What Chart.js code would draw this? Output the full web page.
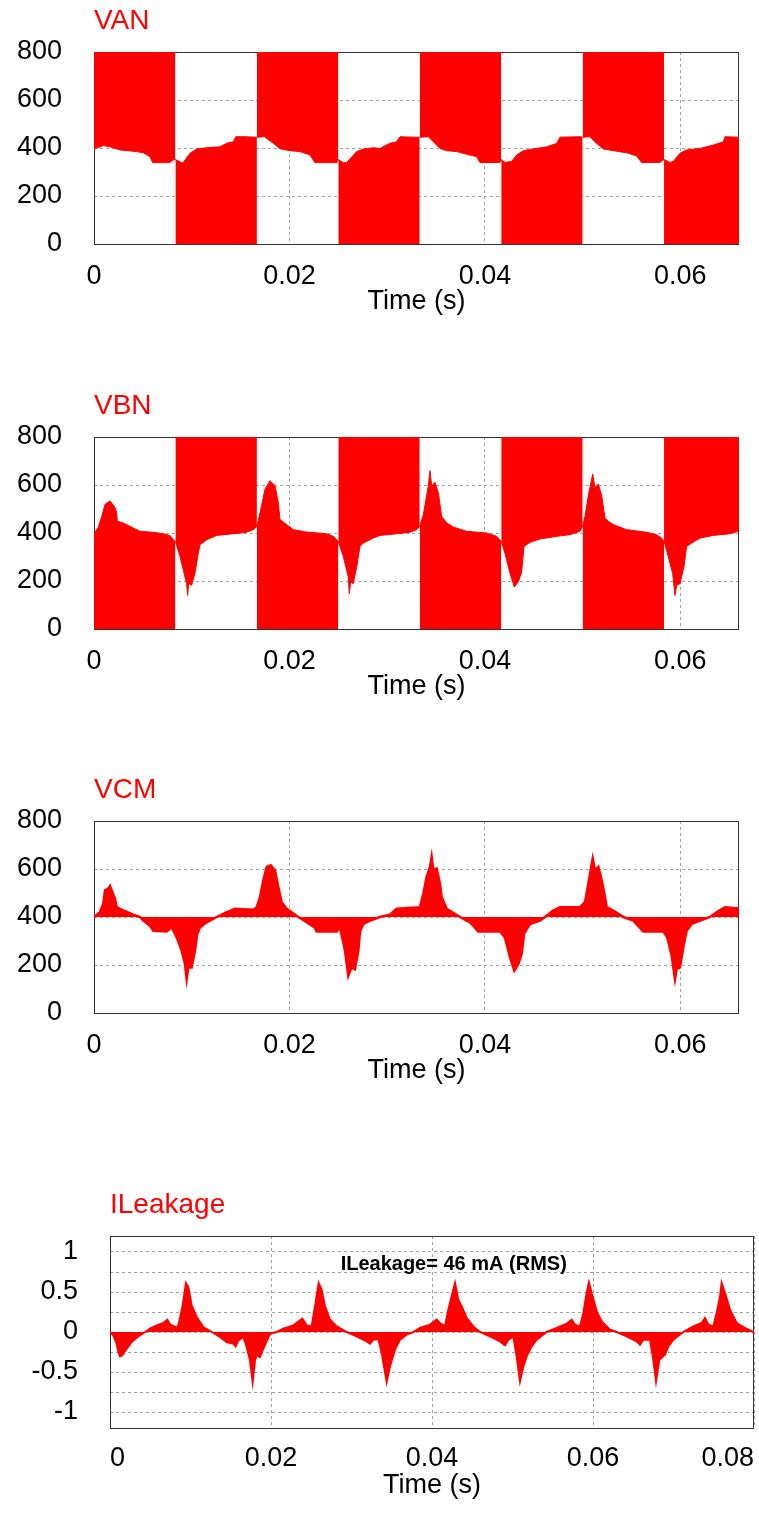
<!DOCTYPE html>
<html>
<head>
<meta charset="utf-8">
<title>Inverter voltages and leakage current</title>
<script src="https://cdn.jsdelivr.net/npm/chart.js@4.4.1/dist/chart.umd.min.js"></script>
<style>
  html, body { margin: 0; padding: 0; background: #fff; }
  body { position: relative; width: 759px; height: 1513px; overflow: hidden; }
  canvas { position: absolute; left: 0; }
</style>
</head>
<body>
<canvas id="van" width="759" height="318" style="top:0px"></canvas>
<canvas id="vbn" width="759" height="318" style="top:385px"></canvas>
<canvas id="vcm" width="759" height="318" style="top:769px"></canvas>
<canvas id="ileak" width="759" height="318" style="top:1184px"></canvas>
<script>
// ===== Axis ticks =====
const voltTicksX = [0, 0.02, 0.04, 0.06];
const leakTicksX = [0, 0.02, 0.04, 0.06, 0.08];
const voltTicksY = [0, 200, 400, 600, 800];
const leakTicksY = [-1, -0.75, -0.5, -0.25, 0, 0.25, 0.5, 0.75, 1];
const leakLabelsY = [-1, -0.5, 0, 0.5, 1];

// switching blocks (ms): inside a block the leg switches so fast it reads as solid red
const switchEdges = [0, 8.33, 16.67, 25.0, 33.33, 41.67, 50.0, 58.33, 66.0];

// ===== VAN envelope (time ms, volts) =====
const vanTime = [0, 0.95, 1.64, 2.66, 4.37, 5.05, 5.73, 6.0, 7.78, 8.05, 8.33,
  8.97, 9.14, 9.82, 10.51, 11.53, 12.89, 13.58, 14.26, 14.5, 15.62, 16.47, 16.67,
  17.43, 18.35, 19.03, 20.05, 21.08, 22.1, 22.61, 24.83, 25.0,
  25.51, 25.86, 26.88, 27.56, 28.58, 29.26, 30.29, 30.97, 31.31, 32.67, 33.33,
  34.21, 34.72, 35.4, 36.09, 37.11, 38.13, 39.16, 39.5, 41.55, 41.67,
  42.05, 42.73, 43.25, 43.93, 44.95, 46.32, 47.34, 47.68, 49.73, 50.0,
  50.75, 51.43, 52.12, 53.14, 54.5, 55.53, 56.04, 57.91, 58.33,
  58.94, 59.28, 59.96, 60.64, 62.01, 63.37, 64.4, 64.57, 65.93, 66.0];
const vanEnv = [395, 410, 405, 392, 385, 380, 364, 339, 339, 350, 352,
  339, 340, 378, 396, 401, 405, 420, 426, 447, 447, 445, 445,
  447, 420, 397, 389, 385, 371, 339, 339, 352,
  339, 340, 385, 396, 401, 398, 420, 426, 447, 445, 445,
  447, 426, 398, 389, 385, 374, 364, 339, 340, 352,
  340, 344, 371, 389, 396, 405, 419, 445, 447, 445,
  447, 419, 396, 389, 380, 367, 339, 340, 352,
  340, 344, 378, 392, 398, 412, 426, 447, 445, 420];

// ===== VBN envelope (time ms, volts) =====
const vbnTime = [0, 0.41, 0.75, 1.13, 1.3, 1.64, 2.15, 2.32, 2.39, 3.0, 4.02, 4.71, 6.07, 7.1, 7.78, 8.12, 8.33,
  8.8, 9.14, 9.48, 9.58, 9.69, 9.99, 10.33, 10.67, 10.85, 11.53, 12.55, 14.26, 15.62, 16.3, 16.67,
  16.99, 17.5, 18.01, 18.52, 18.86, 19.03, 19.71, 20.4, 21.76, 23.81, 24.49, 24.83, 25.0,
  25.51, 26.02, 26.12, 26.26, 26.53, 26.88, 27.22, 27.56, 28.58, 29.26, 30.97, 32.33, 33.02, 33.33,
  33.7, 34.21, 34.38, 34.55, 34.89, 35.23, 35.57, 36.09, 36.77, 38.13, 40.18, 41.2, 41.67,
  42.05, 42.57, 43.01, 43.42, 43.76, 44.0, 44.61, 45.64, 47.34, 48.71, 49.73, 50.0,
  50.24, 50.58, 51.03, 51.26, 51.61, 51.95, 52.29, 52.63, 53.14, 54.5, 56.55, 57.57, 58.08, 58.33,
  58.76, 59.21, 59.45, 59.62, 59.96, 60.37, 60.64, 61.16, 62.01, 63.37, 65.08, 65.93, 66.0];
const vbnEnv = [400, 421, 463, 520, 524, 534, 506, 484, 449, 442, 421, 407, 403, 397, 389, 372, 365,
  302, 245, 189, 140, 189, 182, 231, 316, 351, 372, 390, 397, 403, 414, 428,
  484, 583, 618, 597, 527, 456, 435, 414, 404, 397, 386, 372, 365,
  302, 217, 147, 196, 189, 259, 344, 358, 379, 390, 397, 403, 414, 428,
  477, 597, 660, 597, 611, 569, 470, 442, 425, 407, 400, 386, 365,
  316, 231, 175, 196, 238, 344, 361, 375, 386, 393, 407, 428,
  470, 555, 646, 590, 604, 555, 463, 449, 435, 414, 403, 393, 379, 365,
  302, 231, 140, 182, 189, 259, 344, 358, 379, 390, 397, 407, 414];

// ===== VCM envelope around 400 V (time ms, volts) =====
const vcmTime = [0, 0.61, 0.95, 1.13, 1.47, 1.64, 1.81, 2.15, 2.32, 3.0, 4.02, 4.71,
  5.05, 5.73, 6.07, 7.44, 7.95, 8.46, 8.97, 9.31, 9.48, 9.65, 9.99, 10.33, 10.57, 10.85, 11.53, 12.55,
  13.58, 14.43, 16.3, 16.64, 16.99, 17.33, 17.67, 18.08, 18.52, 18.86, 19.2, 19.71, 20.4, 20.91,
  21.76, 22.61, 22.78, 24.83, 25.17, 25.68, 26.02, 26.36, 26.7, 27.05, 27.22, 27.56, 28.24, 29.26,
  30.29, 30.97, 33.02, 33.35, 33.7, 34.04, 34.38, 34.55, 34.72, 35.06, 35.4, 35.57, 36.09, 37.45,
  38.47, 39.32, 41.55, 42.05, 42.57, 43.01, 43.42, 43.76, 44.0, 44.61, 45.64, 46.15,
  46.99, 47.68, 49.73, 50.24, 50.58, 51.03, 51.26, 51.61, 51.95, 52.29, 52.46, 53.14, 54.17,
  55.19, 56.21, 58.25, 58.66, 59.11, 59.45, 59.62, 59.96, 60.3, 60.64, 61.16, 62.01, 63.03,
  63.71, 64.57, 65.93, 66.0];
const vcmEnv = [400, 420, 455, 511, 518, 529, 511, 476, 441, 427, 410, 400,
  385, 364, 343, 340, 357, 315, 260, 204, 141, 190, 190, 260, 330, 357, 378, 400,
  420, 434, 430, 440, 483, 553, 609, 616, 595, 525, 462, 434, 414, 400,
  378, 355, 340, 340, 357, 260, 155, 190, 182, 260, 340, 371, 385, 400,
  410, 434, 440, 441, 497, 567, 609, 651, 595, 602, 539, 483, 434, 400,
  378, 340, 340, 315, 232, 176, 204, 246, 330, 371, 385, 400,
  427, 441, 441, 462, 539, 644, 595, 609, 553, 483, 441, 427, 400,
  385, 340, 340, 315, 239, 141, 183, 190, 274, 343, 371, 385, 400,
  420, 441, 436, 427];

// ===== ILeakage (time ms, amps) =====
const leakTime = [0, 0.41, 0.83, 1.04, 1.24, 1.53, 2.07, 2.69, 3.52, 4.35, 4.97, 5.8, 6.63, 7.12, 7.45,
  8.28, 8.49, 9.03, 9.44, 9.73, 10.14, 10.77, 11.59, 12.63, 13.66, 14.49, 15.32, 15.61, 15.94, 16.56,
  16.98, 17.39, 17.72, 18.01, 18.22, 18.63, 19.05, 19.88, 20.7, 21.53, 22.77, 23.89, 24.43, 25.05,
  25.47, 25.92, 26.29, 26.71, 27.33, 28.16, 29.4, 30.64, 31.88, 32.3, 32.71, 33.33, 33.75, 34.04,
  34.37, 34.78, 35.4, 36.02, 36.85, 37.68, 38.51, 39.75, 40.58, 40.99, 41.61, 42.03, 42.44, 42.86,
  43.27, 43.69, 44.31, 45.13, 45.96, 47.2, 48.45, 49.07, 49.48, 50.1, 50.52, 50.93, 51.35, 51.76,
  52.38, 53.0, 54.24, 55.49, 56.73, 57.35, 57.76, 58.39, 58.8, 59.21, 59.5, 59.83, 60.46, 61.08,
  62.11, 62.94, 64.18, 65.42, 65.84, 66.25, 67.08, 67.49, 67.83, 68.24, 68.94, 69.36, 69.98, 71.22,
  72.46, 73.5, 73.91, 74.33, 74.95, 75.45, 75.78, 75.98, 76.4, 77.02, 77.85, 78.88, 79.92, 80.0];
const leakVal = [0, -0.042, -0.146, -0.25, -0.304, -0.29, -0.21, -0.125, -0.054, 0, 0.042, 0.083, 0.112, 0.154, 0.096,
  0.054, 0.083, 0.333, 0.612, 0.5625, 0.333, 0.1875, 0.0625, 0, -0.0625, -0.125, -0.146, -0.179, -0.104, -0.0625,
  -0.1875, -0.354, -0.625, -0.354, -0.29, -0.3125, -0.208, -0.021, 0, 0.042, 0.083, 0.167, 0.083, 0.07,
  0.32, 0.6125, 0.53, 0.32, 0.154, 0.07, 0, -0.054, -0.117, -0.146, -0.096, -0.0875, -0.2625, -0.43,
  -0.625, -0.43, -0.22, -0.096, -0.033, 0, 0.05, 0.092, 0.154, 0.1125, 0.07, 0.28, 0.446, 0.6125,
  0.404, 0.32, 0.175, 0.07, 0, -0.054, -0.117, -0.167, -0.096, -0.054, -0.304, -0.617, -0.43, -0.304,
  -0.179, -0.096, 0, 0.05, 0.104, 0.154, 0.092, 0.07, 0.2375, 0.4875, 0.62, 0.4875, 0.258, 0.133,
  0.029, 0, -0.054, -0.117, -0.158, -0.096, -0.096, -0.346, -0.617, -0.346, -0.283, -0.179, -0.096, 0,
  0.07, 0.1125, 0.175, 0.092, 0.07, 0.28, 0.446, 0.6125, 0.4875, 0.28, 0.1125, 0.05, 0, -0.02];

const RED = "#ff0000";
const GRID = "#a0a0a0";
const FONT = "'Liberation Sans', Arial, sans-serif";

Chart.defaults.font.family = FONT;
Chart.defaults.color = "#000";

// ===== Plot frame, drawn under the data =====
const framePlugin = {
    id: "frame",
    beforeDatasetsDraw(chart) {
        const a = chart.chartArea;
        const ctx = chart.ctx;
        ctx.save();
        ctx.strokeStyle = "#333";
        ctx.lineWidth = 1;
        ctx.strokeRect(a.left + 0.5, a.top + 0.5, a.right - a.left - 1, a.bottom - a.top);
        ctx.restore();
    }
};

// ===== Text note inside the plot (data coordinates) =====
const notePlugin = {
    id: "note",
    afterDatasetsDraw(chart, args, opts) {
        if (!opts || !opts.text) return;
        const ctx = chart.ctx;
        ctx.save();
        ctx.font = "bold 20px " + FONT;
        ctx.fillStyle = "#000";
        ctx.textAlign = "center";
        ctx.textBaseline = "middle";
        ctx.fillText(opts.text, chart.scales.x.getPixelForValue(opts.x), chart.scales.y.getPixelForValue(opts.y));
        ctx.restore();
    }
};

// split one envelope into switching blocks, alternately filled to the top or to the bottom
function blockDatasets(times, env, edges, startHigh) {
    const sets = [];
    for (let i = 0; i < edges.length - 1; i++) {
        const pts = [];
        for (let j = 0; j < times.length; j++) {
            if (times[j] >= edges[i] && times[j] <= edges[i + 1]) {
                pts.push({ x: times[j] / 1000, y: env[j] });
            }
        }
        const high = (i % 2 === 0) === startHigh;
        sets.push({
            data: pts,
            borderColor: RED,
            backgroundColor: RED,
            borderWidth: 1,
            pointRadius: 0,
            fill: high ? "end" : "start"
        });
    }
    return sets;
}

function series(times, vals, fill, width) {
    return [{
        data: times.map((t, i) => ({ x: t / 1000, y: vals[i] })),
        borderColor: RED,
        backgroundColor: RED,
        borderWidth: width,
        pointRadius: 0,
        fill: fill
    }];
}

function makeChart(id, title, datasets, cfg) {
    const gridOpts = { color: GRID, lineWidth: 1, drawTicks: false };
    const borderOpts = { display: false, dash: [3, 3] };
    return new Chart(document.getElementById(id), {
        type: "line",
        data: { datasets: datasets },
        plugins: [framePlugin, notePlugin],
        options: {
            responsive: false,
            animation: false,
            events: [],
            layout: { padding: { left: 0, right: cfg.padRight, top: 0, bottom: 0 } },
            plugins: {
                legend: { display: false },
                tooltip: { enabled: false },
                title: {
                    display: true,
                    text: title,
                    align: "start",
                    fullSize: false,
                    color: RED,
                    font: { size: 28, weight: "normal" },
                    padding: { top: 4, bottom: 14.4 }
                },
                note: cfg.note || {}
            },
            scales: {
                x: {
                    type: "linear",
                    min: cfg.xMin,
                    max: cfg.xMax,
                    afterBuildTicks: s => { s.ticks = cfg.xTicks.map(v => ({ value: v })); },
                    afterFit: s => {
                        s.height = 74;
                        // plot edges are fixed by the layout padding, labels may overhang
                        s.paddingLeft = 0;
                        s.paddingRight = 0;
                    },
                    ticks: {
                        padding: cfg.xPad,
                        align: cfg.xAlign,
                        maxRotation: 0,
                        autoSkip: false,
                        font: { size: 27 },
                        callback: v => String(v)
                    },
                    grid: gridOpts,
                    border: borderOpts,
                    title: {
                        display: true,
                        text: "Time (s)",
                        font: { size: 27 },
                        padding: 0
                    }
                },
                y: {
                    type: "linear",
                    min: cfg.yMin,
                    max: cfg.yMax,
                    afterBuildTicks: s => { s.ticks = cfg.yTicks.map(v => ({ value: v })); },
                    afterFit: s => { s.width = cfg.yWidth; },
                    ticks: {
                        padding: 32,
                        autoSkip: false,
                        font: { size: 27 },
                        callback: cfg.yLabel
                    },
                    grid: gridOpts,
                    border: borderOpts
                }
            }
        }
    });
}

const voltCfg = {
    xMin: 0, xMax: 0.066, xTicks: voltTicksX, xAlign: "center", xPad: 16.4,
    yMin: 0, yMax: 800, yTicks: voltTicksY, yWidth: 94, padRight: 20,
    yLabel: v => String(v)
};

makeChart("van", "VAN", blockDatasets(vanTime, vanEnv, switchEdges, true), voltCfg);
makeChart("vbn", "VBN", blockDatasets(vbnTime, vbnEnv, switchEdges, false), voltCfg);
makeChart("vcm", "VCM", series(vcmTime, vcmEnv, { value: 400 }, 2.5), voltCfg);
makeChart("ileak", "ILeakage", series(leakTime, leakVal, "origin", 2), {
    xMin: 0, xMax: 0.08, xTicks: leakTicksX, xAlign: "inner", xPad: 14.4,
    yMin: -1.2, yMax: 1.2, yTicks: leakTicksY, yWidth: 110, padRight: 5,
    yLabel: v => (leakLabelsY.includes(v) ? String(v) : ""),
    note: { text: "ILeakage= 46 mA (RMS)", x: 0.0427, y: 0.85 }
});
</script>
</body>
</html>
